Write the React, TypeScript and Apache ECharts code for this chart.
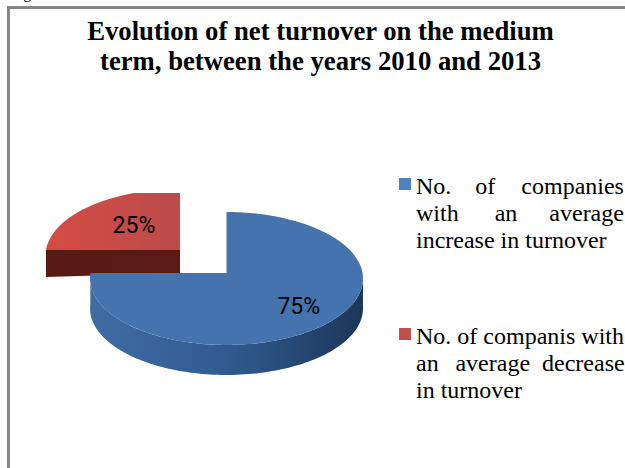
import React, { useEffect, useRef } from "react";
import * as echarts from "echarts";

// Company counts as shares of the sample, in drawing order (clockwise from 12 o'clock).
const sliceNames = [
  "No. of companies with an average increase in turnover",
  "No. of companis with an average decrease in turnover",
];
const sliceValues = [75, 25];
// Justified legend lines: the runs of spaces stretch each line to the right margin.
const legendLines = [
  ["No.    of    \u200Acompanies", "with      an     \u200Aaverage", "increase in turnover"],
  ["No. of companis with", "an  \u2009average  decrease", "in turnover"],
];
const titleLines = ["Evolution of net turnover on the medium", "term, between the years 2010 and 2013"];
const captionAbove = "Fig";

const total = sliceValues.reduce((a, b) => a + b, 0);

// Tilted-disc projection: the far side of the pie is foreshortened.
const RY = 66;
const TILT = 0.0827;

type SliceStyle = {
  apex: [number, number];
  rx: number;
  depth: number;
  topY: number;
  labelAt: number;
  top: any;
  wall: any;
};

const hGrad = (stops: [number, string][]) => ({
  type: "linear",
  x: 0,
  y: 0,
  x2: 1,
  y2: 0,
  colorStops: stops.map(([offset, color]) => ({ offset, color })),
});

const sliceStyles: SliceStyle[] = [
  {
    apex: [226.5, 273],
    rx: 136,
    depth: 30,
    topY: 0,
    labelAt: 0.72,
    top: "#4473ae",
    wall: hGrad([
      [0, "#3f6ca3"],
      [0.5, "#2f5b90"],
      [1, "#1d3658"],
    ]),
  },
  {
    apex: [180, 250],
    rx: 134,
    depth: 27,
    topY: 193,
    labelAt: 0.5,
    top: hGrad([
      [0, "#d54b43"],
      [1, "#bb4b4b"],
    ]),
    wall: hGrad([
      [0, "#571a14"],
      [1, "#5c1a15"],
    ]),
  },
];

function project(s: SliceStyle, thetaDeg: number, f: number, topY: number): [number, number] {
  const t = (thetaDeg * Math.PI) / 180;
  const u = Math.sin(t) * f;
  const v = Math.cos(t) * f;
  const w = 1 + TILT * v;
  const y = s.apex[1] - (RY * v) / w;
  return [s.apex[0] + (s.rx * u) / w, Math.max(y, topY)];
}

function sliceRenderer(index: number) {
  return (_params: any, api: any) => {
    const value = api.value(0);
    const before = sliceValues.slice(0, index).reduce((a, b) => a + b, 0);
    const start = (before / total) * 360;
    const end = start + (value / total) * 360;
    const s = sliceStyles[index];

    const rim: [number, number][] = [];
    for (let a = start; a <= end + 1e-6; a += 1.5) rim.push(project(s, a, 1, s.topY));

    // Outer wall of the visible front part of the rim.
    const front: [number, number][] = [];
    for (let a = Math.max(start, 95); a <= end && a <= 271; a += 1.5) {
      front.push(project(s, a, 1, s.topY));
    }
    const children: any[] = [];
    if (front.length > 1) {
      const wall = front.concat(
        front
          .slice()
          .reverse()
          .map(([x, y]) => [x, y + s.depth] as [number, number]),
      );
      children.push({ type: "polygon", shape: { points: wall }, style: { fill: s.wall } });
    } else {
      // Cut face of the pulled-out slice, seen from the front.
      const left = project(s, start, 1, s.topY);
      children.push({
        type: "polygon",
        shape: {
          points: [
            left,
            s.apex,
            [s.apex[0], s.apex[1] + s.depth - 4],
            [left[0], left[1] + s.depth],
          ],
        },
        style: { fill: s.wall },
      });
    }
    children.push({
      type: "polygon",
      shape: { points: [s.apex, ...rim] },
      style: { fill: s.top },
    });
    const mid = (start + end) / 2;
    const [lx, ly] = project(s, mid, s.labelAt, 0);
    children.push({
      type: "text",
      style: {
        x: lx,
        y: ly - 2,
        text: `${value}%`,
        fill: "#000",
        font: "23px Roboto, 'Noto Sans', sans-serif",
        align: "center",
        verticalAlign: "middle",
      },
    });
    return { type: "group", children };
  };
}

export default function App() {
  const ref = useRef<HTMLDivElement>(null);
  useEffect(() => {
    const chart = echarts.init(ref.current!, null, { renderer: "svg" });
    chart.setOption({
      animation: false,
      backgroundColor: "#fff",
      title: {
        text: titleLines.join("\n"),
        left: 315.5,
        top: 11,
        textAlign: "center",
        textStyle: {
          fontFamily: "'Liberation Serif', serif",
          fontWeight: "bold",
          fontSize: 26.7,
          lineHeight: 30,
          color: "#000",
        },
      },
      legend: {
        orient: "vertical",
        left: 394,
        top: 167,
        itemWidth: 12,
        itemHeight: 82,
        itemGap: 68,
        selectedMode: false,
        icon: "path://M0 6h12v12h-12zM0 0h0M0 82h0",
        data: sliceNames.map((name) => ({ name })),
        formatter: (name: string) => legendLines[sliceNames.indexOf(name)].join("\n"),
        textStyle: {
          fontFamily: "'Liberation Serif', serif",
          fontSize: 24,
          lineHeight: 27.3,
          color: "#000",
        },
      },
      graphic: [
        {
          type: "text",
          x: 10,
          y: 0,
          style: {
            text: captionAbove,
            fill: "#000",
            font: "16px 'Liberation Serif', serif",
            verticalAlign: "bottom",
          },
        },
        { type: "rect", shape: { x: 7, y: 6, width: 618, height: 3 }, style: { fill: "#868686" } },
        { type: "rect", shape: { x: 7, y: 6, width: 3, height: 462 }, style: { fill: "#868686" } },
      ],
      series: sliceNames.map((name, i) => ({
        type: "custom",
        name,
        coordinateSystem: "none",
        z: i === 0 ? 3 : 2,
        itemStyle: { color: i === 0 ? "#4f81bd" : "#c0504d" },
        renderItem: sliceRenderer(i),
        data: [[sliceValues[i]]],
      })),
    });
    return () => chart.dispose();
  }, []);
  return <div ref={ref} style={{ position: "fixed", left: 0, top: 0, width: 625, height: 468 }} />;
}
